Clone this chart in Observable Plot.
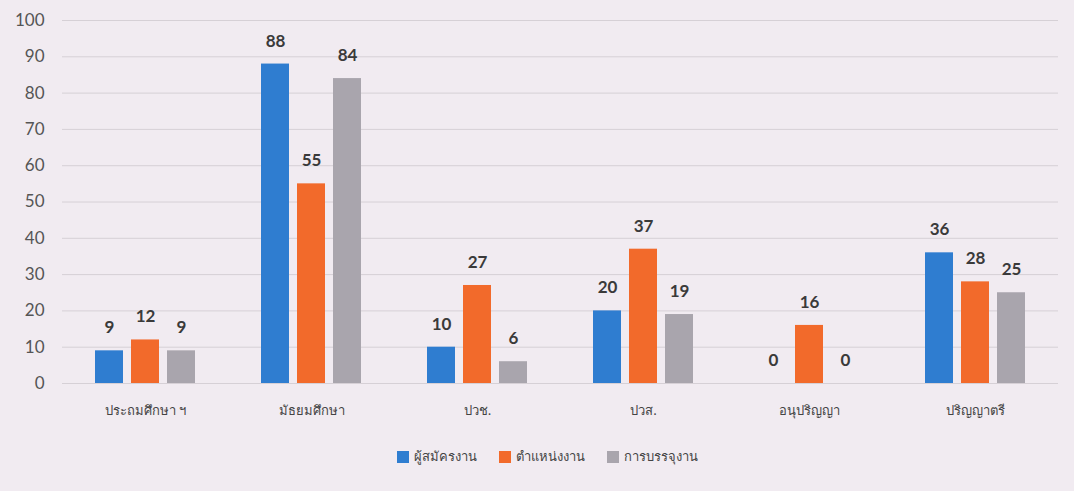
<!DOCTYPE html>
<html>
<head>
<meta charset="utf-8">
<script src="https://cdn.jsdelivr.net/npm/d3@7"></script>
<script src="https://cdn.jsdelivr.net/npm/@observablehq/plot@0.6"></script>
<style>
  html, body { margin: 0; padding: 0; background: #f1ebf1; }
  body { width: 1074px; height: 491px; overflow: hidden; font-family: Lato, "Noto Sans", "DejaVu Sans", sans-serif; }
  #legend { display: flex; justify-content: center; gap: 22px; font-size: 13px; color: #444; margin-left: 20px; margin-top: 6px; }
  #legend .item { display: flex; align-items: center; gap: 5px; }
  #legend .sw { width: 12px; height: 12px; display: inline-block; }
</style>
</head>
<body>
<div id="chart"></div>
<div id="legend"></div>
<script>
const categories = ["ประถมศึกษา ฯ", "มัธยมศึกษา", "ปวช.", "ปวส.", "อนุปริญญา", "ปริญญาตรี"];
const seriesNames = ["ผู้สมัครงาน", "ตำแหน่งงาน", "การบรรจุงาน"];
const applicants = [9, 88, 10, 20, 0, 36];
const positions = [12, 55, 27, 37, 16, 28];
const placements = [9, 84, 6, 19, 0, 25];
const colors = ["#2f7dd0", "#f26a2b", "#a9a5ad"];
const yTicks = [0, 10, 20, 30, 40, 50, 60, 70, 80, 90, 100];

const seriesValues = [applicants, positions, placements];
const data = [];
categories.forEach((c, i) => {
  seriesNames.forEach((s, j) => {
    data.push({cat: c, series: s, value: seriesValues[j][i]});
  });
});

const chart = Plot.plot({
  width: 1074,
  height: 440,
  marginLeft: 60,
  marginRight: 14,
  marginTop: 20,
  marginBottom: 57,
  style: {background: "transparent", fontFamily: "Lato, 'Noto Sans', 'DejaVu Sans', sans-serif"},
  fx: {domain: categories, padding: 0, label: null},
  x: {domain: seriesNames, paddingInner: 0.216, paddingOuter: 0.86, axis: null},
  y: {domain: [0, 100], label: null},
  color: {domain: seriesNames, range: colors},
  marks: [
    Plot.gridY(yTicks, {stroke: "#d6d0d6", strokeOpacity: 1}),
    Plot.axisY(yTicks, {tickSize: 0, tickPadding: 18, fontSize: 17, fill: "#555", label: null}),
    Plot.axisFx({anchor: "bottom", tickSize: 0, tickPadding: 22, fontSize: 13, fill: "#444", label: null}),
    Plot.barY(data, {fx: "cat", x: "series", y: "value", fill: "series"}),
    Plot.text(data, {fx: "cat", x: "series", y: "value", text: d => String(d.value), dy: -23, fontSize: 17, fontWeight: "bold", fill: "#3a3a3a"})
  ]
});
document.getElementById("chart").appendChild(chart);

const legend = document.getElementById("legend");
seriesNames.forEach((s, i) => {
  const item = document.createElement("div");
  item.className = "item";
  const sw = document.createElement("span");
  sw.className = "sw";
  sw.style.background = colors[i];
  const t = document.createElement("span");
  t.textContent = s;
  item.appendChild(sw);
  item.appendChild(t);
  legend.appendChild(item);
});
</script>
</body>
</html>
